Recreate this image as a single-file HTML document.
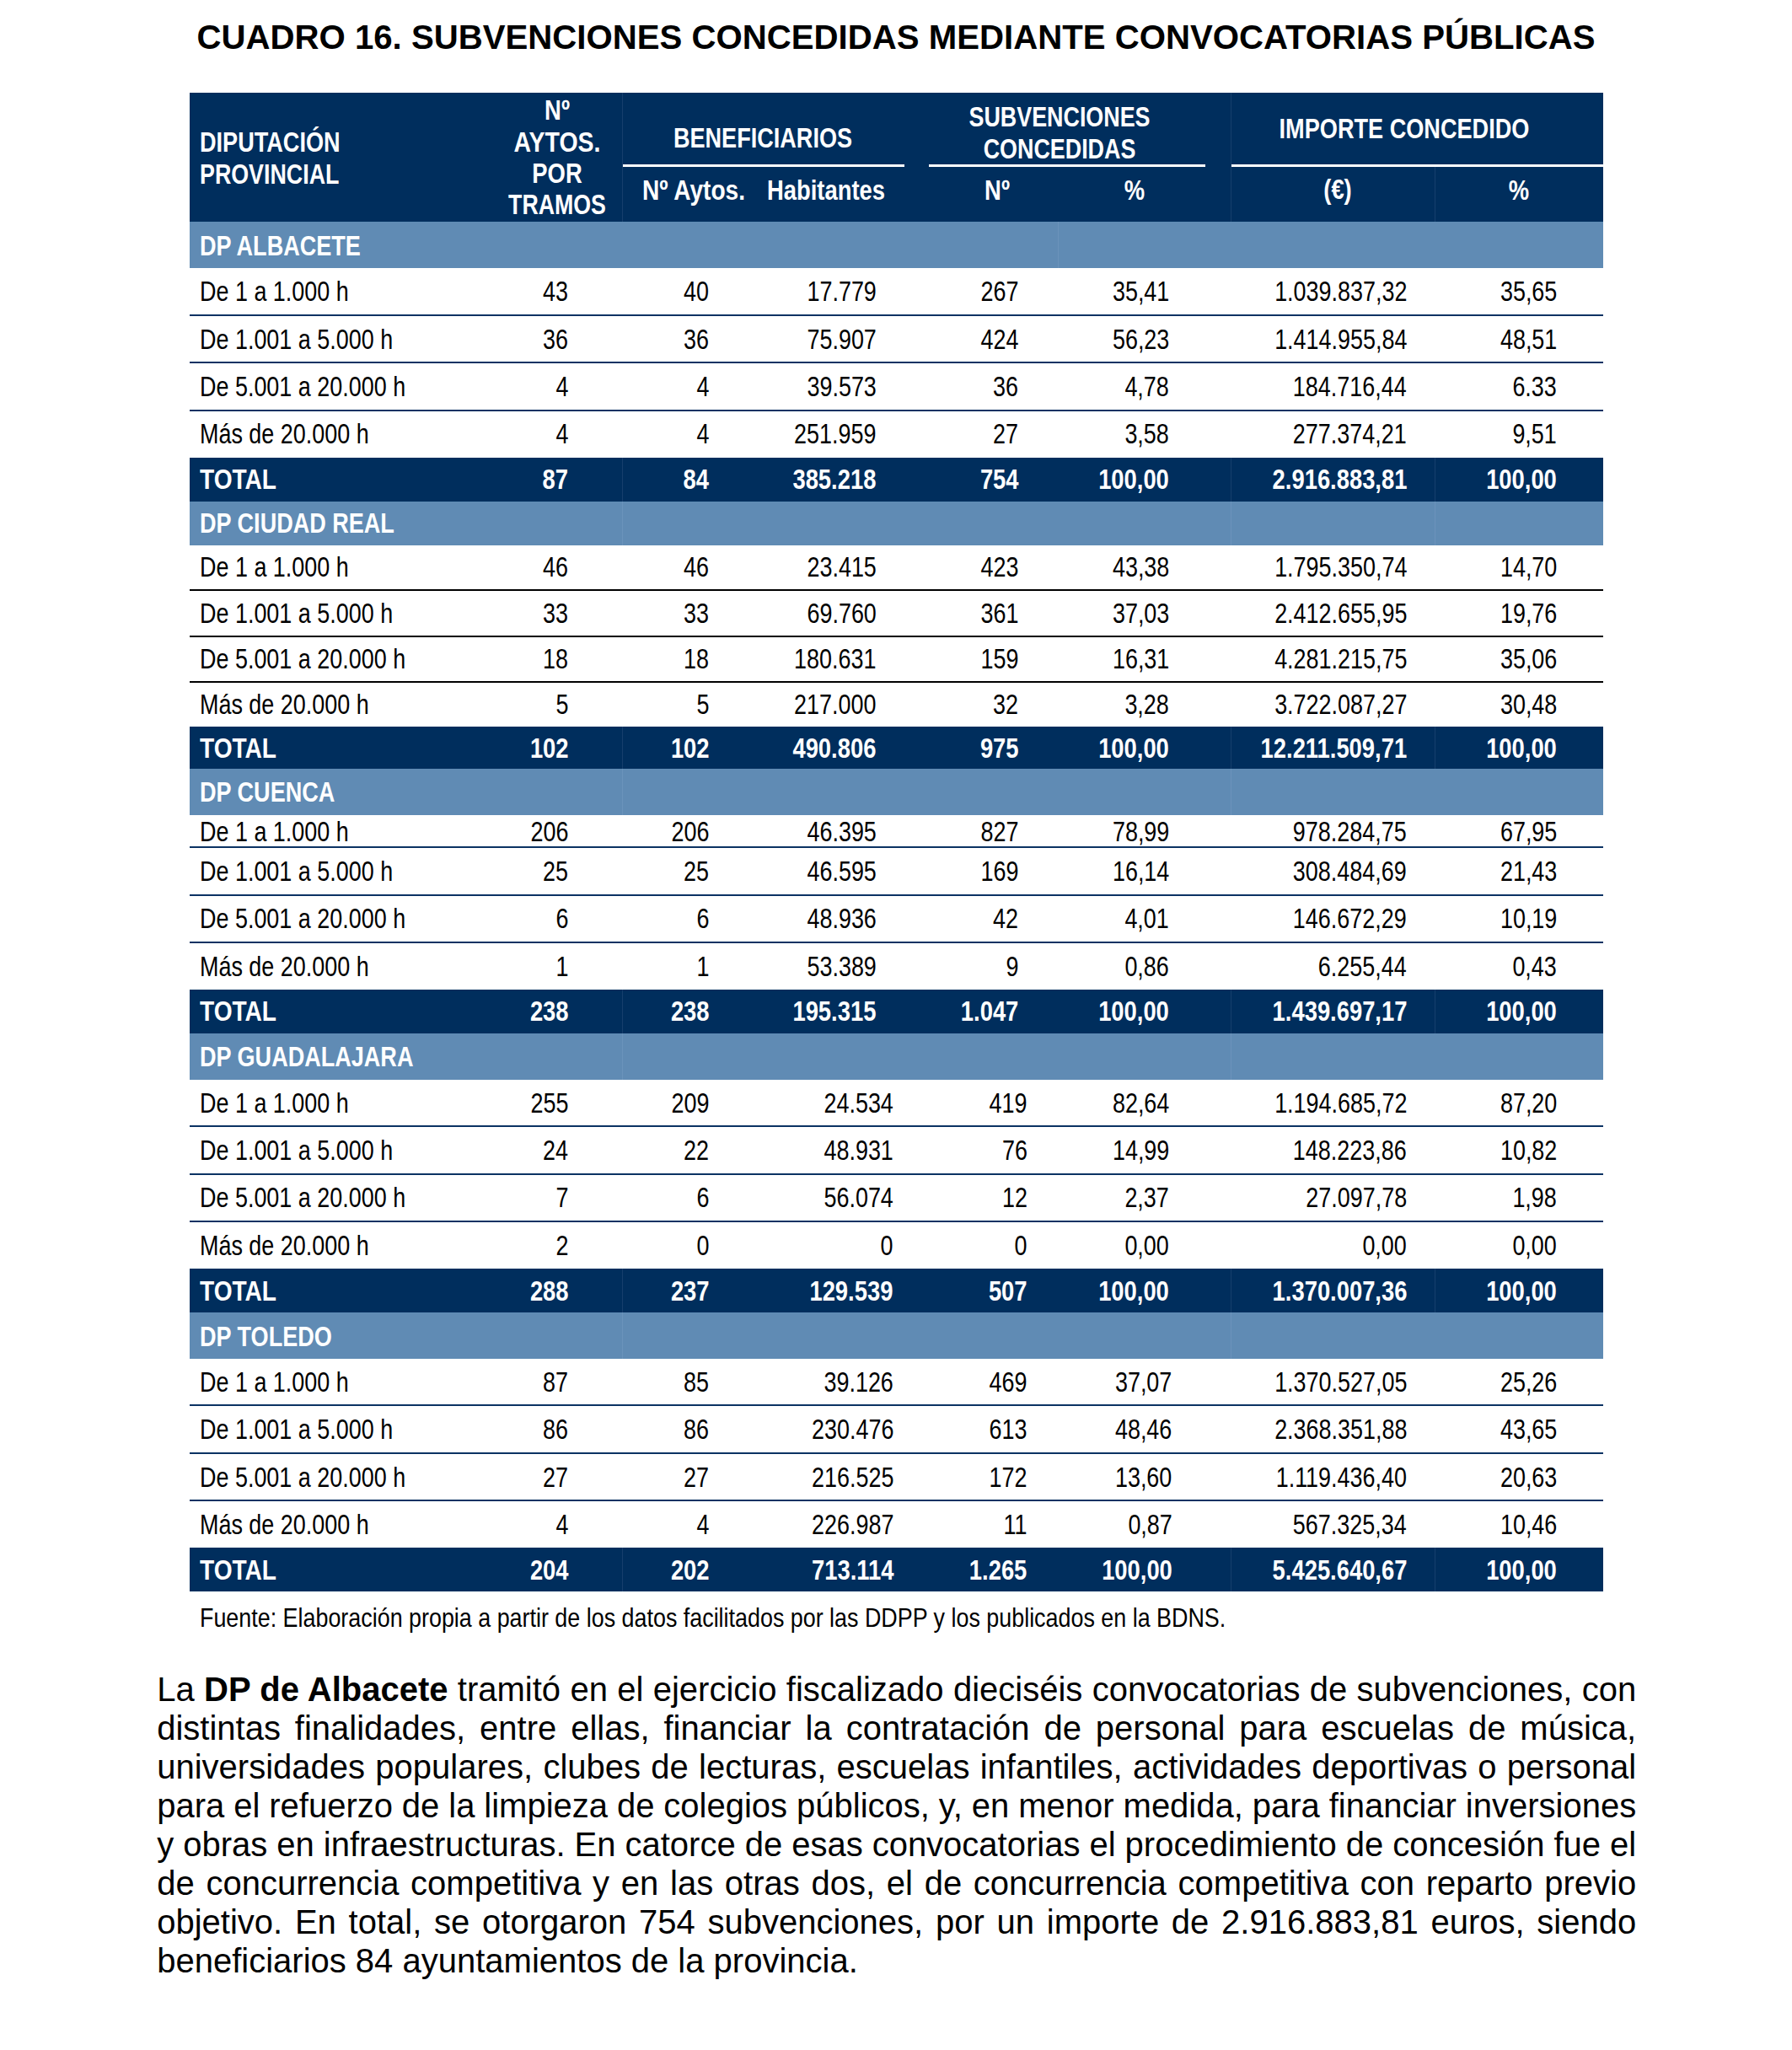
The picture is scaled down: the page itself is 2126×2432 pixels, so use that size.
<!DOCTYPE html>
<html><head><meta charset="utf-8"><title>Cuadro 16</title>
<style>
html,body{margin:0;padding:0;background:#fff}
body{width:2126px;height:2432px;position:relative;overflow:hidden;font-family:"Liberation Sans",sans-serif;color:#000}
</style></head><body>
<div style="position:absolute;left:0;width:2126px;top:22.67px;font-size:41.5px;line-height:41.5px;font-weight:bold;text-align:center;white-space:nowrap;transform:scaleX(0.968);transform-origin:50% 0">CUADRO 16. SUBVENCIONES CONCEDIDAS MEDIANTE CONVOCATORIAS PÚBLICAS</div>
<div style="position:absolute;left:224.50px;top:109.60px;width:1677.50px;height:153.40px;background:#002e5d"></div><div style="position:absolute;left:738.00px;top:195.30px;width:335.00px;height:2.50px;background:#ffffff"></div><div style="position:absolute;left:1102.40px;top:195.30px;width:327.60px;height:2.50px;background:#ffffff"></div><div style="position:absolute;left:1460.40px;top:195.30px;width:441.60px;height:2.50px;background:#ffffff"></div><div style="position:absolute;left:737.50px;top:109.60px;width:1.30px;height:153.40px;background:#163f6c"></div><div style="position:absolute;left:1459.80px;top:109.60px;width:1.20px;height:153.40px;background:#163f6c"></div><div style="position:absolute;left:1701.60px;top:198.00px;width:1.20px;height:65.00px;background:#163f6c"></div><div style="position:absolute;top:152.21px;font-size:33.3px;line-height:33.3px;color:#ffffff;font-weight:bold;white-space:nowrap;left:237.20px;transform:scaleX(0.81378);transform-origin:0 0">DIPUTACIÓN</div><div style="position:absolute;top:189.81px;font-size:33.3px;line-height:33.3px;color:#ffffff;font-weight:bold;white-space:nowrap;left:237.20px;transform:scaleX(0.8055599999999999);transform-origin:0 0">PROVINCIAL</div><div style="position:absolute;top:114.01px;font-size:33.3px;line-height:33.3px;color:#ffffff;font-weight:bold;white-space:nowrap;left:-339.00px;width:2000px;text-align:center;transform:scaleX(0.822);transform-origin:50% 0">Nº</div><div style="position:absolute;top:151.71px;font-size:33.3px;line-height:33.3px;color:#ffffff;font-weight:bold;white-space:nowrap;left:-339.00px;width:2000px;text-align:center;transform:scaleX(0.85488);transform-origin:50% 0">AYTOS.</div><div style="position:absolute;top:189.31px;font-size:33.3px;line-height:33.3px;color:#ffffff;font-weight:bold;white-space:nowrap;left:-339.00px;width:2000px;text-align:center;transform:scaleX(0.822);transform-origin:50% 0">POR</div><div style="position:absolute;top:226.11px;font-size:33.3px;line-height:33.3px;color:#ffffff;font-weight:bold;white-space:nowrap;left:-339.00px;width:2000px;text-align:center;transform:scaleX(0.803094);transform-origin:50% 0">TRAMOS</div><div style="position:absolute;top:147.11px;font-size:33.3px;line-height:33.3px;color:#ffffff;font-weight:bold;white-space:nowrap;left:-94.70px;width:2000px;text-align:center;transform:scaleX(0.812958);transform-origin:50% 0">BENEFICIARIOS</div><div style="position:absolute;top:208.81px;font-size:33.3px;line-height:33.3px;color:#ffffff;font-weight:bold;white-space:nowrap;left:-177.50px;width:2000px;text-align:center;transform:scaleX(0.843372);transform-origin:50% 0">Nº Aytos.</div><div style="position:absolute;top:208.81px;font-size:33.3px;line-height:33.3px;color:#ffffff;font-weight:bold;white-space:nowrap;left:-20.00px;width:2000px;text-align:center;transform:scaleX(0.822);transform-origin:50% 0">Habitantes</div><div style="position:absolute;top:122.41px;font-size:33.3px;line-height:33.3px;color:#ffffff;font-weight:bold;white-space:nowrap;left:256.50px;width:2000px;text-align:center;transform:scaleX(0.8072039999999999);transform-origin:50% 0">SUBVENCIONES</div><div style="position:absolute;top:159.81px;font-size:33.3px;line-height:33.3px;color:#ffffff;font-weight:bold;white-space:nowrap;left:256.50px;width:2000px;text-align:center;transform:scaleX(0.8072039999999999);transform-origin:50% 0">CONCEDIDAS</div><div style="position:absolute;top:208.61px;font-size:33.3px;line-height:33.3px;color:#ffffff;font-weight:bold;white-space:nowrap;left:182.60px;width:2000px;text-align:center;transform:scaleX(0.822);transform-origin:50% 0">Nº</div><div style="position:absolute;top:208.61px;font-size:33.3px;line-height:33.3px;color:#ffffff;font-weight:bold;white-space:nowrap;left:346.20px;width:2000px;text-align:center;transform:scaleX(0.822);transform-origin:50% 0">%</div><div style="position:absolute;top:135.81px;font-size:33.3px;line-height:33.3px;color:#ffffff;font-weight:bold;white-space:nowrap;left:666.00px;width:2000px;text-align:center;transform:scaleX(0.8146019999999999);transform-origin:50% 0">IMPORTE CONCEDIDO</div><div style="position:absolute;top:208.31px;font-size:33.3px;line-height:33.3px;color:#ffffff;font-weight:bold;white-space:nowrap;left:587.00px;width:2000px;text-align:center;transform:scaleX(0.822);transform-origin:50% 0">(€)</div><div style="position:absolute;top:209.11px;font-size:33.3px;line-height:33.3px;color:#ffffff;font-weight:bold;white-space:nowrap;left:801.50px;width:2000px;text-align:center;transform:scaleX(0.822);transform-origin:50% 0">%</div><div style="position:absolute;left:224.50px;top:263.00px;width:1677.50px;height:55.00px;background:#608bb4"></div><div style="position:absolute;left:1255.10px;top:263.00px;width:1.10px;height:55.00px;background:#6b93bb"></div><div style="position:absolute;top:274.91px;font-size:33.3px;line-height:33.3px;color:#ffffff;font-weight:bold;white-space:nowrap;left:237.20px;transform:scaleX(0.812136);transform-origin:0 0">DP ALBACETE</div><div style="position:absolute;left:224.50px;top:372.60px;width:1677.50px;height:2.00px;background:#0b3263"></div><div style="position:absolute;left:224.50px;top:429.30px;width:1677.50px;height:2.00px;background:#0b3263"></div><div style="position:absolute;left:224.50px;top:486.00px;width:1677.50px;height:2.00px;background:#0b3263"></div><div style="position:absolute;top:329.11px;font-size:33.3px;line-height:33.3px;color:#000;white-space:nowrap;left:237.20px;transform:scaleX(0.809);transform-origin:0 0">De 1 a 1.000 h</div><div style="position:absolute;top:329.11px;font-size:33.3px;line-height:33.3px;color:#000;white-space:nowrap;right:1451.90px;transform:scaleX(0.809);transform-origin:100% 0">43</div><div style="position:absolute;top:329.11px;font-size:33.3px;line-height:33.3px;color:#000;white-space:nowrap;right:1284.90px;transform:scaleX(0.809);transform-origin:100% 0">40</div><div style="position:absolute;top:329.11px;font-size:33.3px;line-height:33.3px;color:#000;white-space:nowrap;right:1086.40px;transform:scaleX(0.809);transform-origin:100% 0">17.779</div><div style="position:absolute;top:329.11px;font-size:33.3px;line-height:33.3px;color:#000;white-space:nowrap;right:917.90px;transform:scaleX(0.809);transform-origin:100% 0">267</div><div style="position:absolute;top:329.11px;font-size:33.3px;line-height:33.3px;color:#000;white-space:nowrap;right:738.90px;transform:scaleX(0.809);transform-origin:100% 0">35,41</div><div style="position:absolute;top:329.11px;font-size:33.3px;line-height:33.3px;color:#000;white-space:nowrap;right:456.90px;transform:scaleX(0.809);transform-origin:100% 0">1.039.837,32</div><div style="position:absolute;top:329.11px;font-size:33.3px;line-height:33.3px;color:#000;white-space:nowrap;right:278.90px;transform:scaleX(0.809);transform-origin:100% 0">35,65</div><div style="position:absolute;top:386.11px;font-size:33.3px;line-height:33.3px;color:#000;white-space:nowrap;left:237.20px;transform:scaleX(0.809);transform-origin:0 0">De 1.001 a 5.000 h</div><div style="position:absolute;top:386.11px;font-size:33.3px;line-height:33.3px;color:#000;white-space:nowrap;right:1451.90px;transform:scaleX(0.809);transform-origin:100% 0">36</div><div style="position:absolute;top:386.11px;font-size:33.3px;line-height:33.3px;color:#000;white-space:nowrap;right:1284.90px;transform:scaleX(0.809);transform-origin:100% 0">36</div><div style="position:absolute;top:386.11px;font-size:33.3px;line-height:33.3px;color:#000;white-space:nowrap;right:1086.40px;transform:scaleX(0.809);transform-origin:100% 0">75.907</div><div style="position:absolute;top:386.11px;font-size:33.3px;line-height:33.3px;color:#000;white-space:nowrap;right:917.90px;transform:scaleX(0.809);transform-origin:100% 0">424</div><div style="position:absolute;top:386.11px;font-size:33.3px;line-height:33.3px;color:#000;white-space:nowrap;right:738.90px;transform:scaleX(0.809);transform-origin:100% 0">56,23</div><div style="position:absolute;top:386.11px;font-size:33.3px;line-height:33.3px;color:#000;white-space:nowrap;right:456.90px;transform:scaleX(0.809);transform-origin:100% 0">1.414.955,84</div><div style="position:absolute;top:386.11px;font-size:33.3px;line-height:33.3px;color:#000;white-space:nowrap;right:278.90px;transform:scaleX(0.809);transform-origin:100% 0">48,51</div><div style="position:absolute;top:441.71px;font-size:33.3px;line-height:33.3px;color:#000;white-space:nowrap;left:237.20px;transform:scaleX(0.809);transform-origin:0 0">De 5.001 a 20.000 h</div><div style="position:absolute;top:441.71px;font-size:33.3px;line-height:33.3px;color:#000;white-space:nowrap;right:1451.90px;transform:scaleX(0.809);transform-origin:100% 0">4</div><div style="position:absolute;top:441.71px;font-size:33.3px;line-height:33.3px;color:#000;white-space:nowrap;right:1284.90px;transform:scaleX(0.809);transform-origin:100% 0">4</div><div style="position:absolute;top:441.71px;font-size:33.3px;line-height:33.3px;color:#000;white-space:nowrap;right:1086.40px;transform:scaleX(0.809);transform-origin:100% 0">39.573</div><div style="position:absolute;top:441.71px;font-size:33.3px;line-height:33.3px;color:#000;white-space:nowrap;right:917.90px;transform:scaleX(0.809);transform-origin:100% 0">36</div><div style="position:absolute;top:441.71px;font-size:33.3px;line-height:33.3px;color:#000;white-space:nowrap;right:738.90px;transform:scaleX(0.809);transform-origin:100% 0">4,78</div><div style="position:absolute;top:441.71px;font-size:33.3px;line-height:33.3px;color:#000;white-space:nowrap;right:456.90px;transform:scaleX(0.809);transform-origin:100% 0">184.716,44</div><div style="position:absolute;top:441.71px;font-size:33.3px;line-height:33.3px;color:#000;white-space:nowrap;right:278.90px;transform:scaleX(0.809);transform-origin:100% 0">6.33</div><div style="position:absolute;top:498.31px;font-size:33.3px;line-height:33.3px;color:#000;white-space:nowrap;left:237.20px;transform:scaleX(0.809);transform-origin:0 0">Más de 20.000 h</div><div style="position:absolute;top:498.31px;font-size:33.3px;line-height:33.3px;color:#000;white-space:nowrap;right:1451.90px;transform:scaleX(0.809);transform-origin:100% 0">4</div><div style="position:absolute;top:498.31px;font-size:33.3px;line-height:33.3px;color:#000;white-space:nowrap;right:1284.90px;transform:scaleX(0.809);transform-origin:100% 0">4</div><div style="position:absolute;top:498.31px;font-size:33.3px;line-height:33.3px;color:#000;white-space:nowrap;right:1086.40px;transform:scaleX(0.809);transform-origin:100% 0">251.959</div><div style="position:absolute;top:498.31px;font-size:33.3px;line-height:33.3px;color:#000;white-space:nowrap;right:917.90px;transform:scaleX(0.809);transform-origin:100% 0">27</div><div style="position:absolute;top:498.31px;font-size:33.3px;line-height:33.3px;color:#000;white-space:nowrap;right:738.90px;transform:scaleX(0.809);transform-origin:100% 0">3,58</div><div style="position:absolute;top:498.31px;font-size:33.3px;line-height:33.3px;color:#000;white-space:nowrap;right:456.90px;transform:scaleX(0.809);transform-origin:100% 0">277.374,21</div><div style="position:absolute;top:498.31px;font-size:33.3px;line-height:33.3px;color:#000;white-space:nowrap;right:278.90px;transform:scaleX(0.809);transform-origin:100% 0">9,51</div><div style="position:absolute;left:224.50px;top:542.70px;width:1677.50px;height:52.30px;background:#002e5d"></div><div style="position:absolute;left:737.90px;top:542.70px;width:1.10px;height:52.30px;background:#163f6c"></div><div style="position:absolute;left:1459.90px;top:542.70px;width:1.10px;height:52.30px;background:#163f6c"></div><div style="position:absolute;left:1701.90px;top:542.70px;width:1.10px;height:52.30px;background:#163f6c"></div><div style="position:absolute;top:551.71px;font-size:33.3px;line-height:33.3px;color:#ffffff;font-weight:bold;white-space:nowrap;left:237.20px;transform:scaleX(0.843372);transform-origin:0 0">TOTAL</div><div style="position:absolute;top:551.71px;font-size:33.3px;line-height:33.3px;color:#ffffff;font-weight:bold;white-space:nowrap;right:1451.90px;transform:scaleX(0.822);transform-origin:100% 0">87</div><div style="position:absolute;top:551.71px;font-size:33.3px;line-height:33.3px;color:#ffffff;font-weight:bold;white-space:nowrap;right:1284.90px;transform:scaleX(0.822);transform-origin:100% 0">84</div><div style="position:absolute;top:551.71px;font-size:33.3px;line-height:33.3px;color:#ffffff;font-weight:bold;white-space:nowrap;right:1086.40px;transform:scaleX(0.822);transform-origin:100% 0">385.218</div><div style="position:absolute;top:551.71px;font-size:33.3px;line-height:33.3px;color:#ffffff;font-weight:bold;white-space:nowrap;right:917.90px;transform:scaleX(0.822);transform-origin:100% 0">754</div><div style="position:absolute;top:551.71px;font-size:33.3px;line-height:33.3px;color:#ffffff;font-weight:bold;white-space:nowrap;right:738.90px;transform:scaleX(0.822);transform-origin:100% 0">100,00</div><div style="position:absolute;top:551.71px;font-size:33.3px;line-height:33.3px;color:#ffffff;font-weight:bold;white-space:nowrap;right:456.90px;transform:scaleX(0.822);transform-origin:100% 0">2.916.883,81</div><div style="position:absolute;top:551.71px;font-size:33.3px;line-height:33.3px;color:#ffffff;font-weight:bold;white-space:nowrap;right:278.90px;transform:scaleX(0.822);transform-origin:100% 0">100,00</div><div style="position:absolute;left:224.50px;top:595.00px;width:1677.50px;height:52.00px;background:#608bb4"></div><div style="position:absolute;left:737.90px;top:595.00px;width:1.10px;height:52.00px;background:#6b93bb"></div><div style="position:absolute;left:1459.90px;top:595.00px;width:1.10px;height:52.00px;background:#6b93bb"></div><div style="position:absolute;left:1701.90px;top:595.00px;width:1.10px;height:52.00px;background:#6b93bb"></div><div style="position:absolute;top:604.11px;font-size:33.3px;line-height:33.3px;color:#ffffff;font-weight:bold;white-space:nowrap;left:237.20px;transform:scaleX(0.812136);transform-origin:0 0">DP CIUDAD REAL</div><div style="position:absolute;left:224.50px;top:699.40px;width:1677.50px;height:2.00px;background:#000000"></div><div style="position:absolute;left:224.50px;top:753.50px;width:1677.50px;height:2.00px;background:#000000"></div><div style="position:absolute;left:224.50px;top:807.90px;width:1677.50px;height:2.00px;background:#000000"></div><div style="position:absolute;top:656.31px;font-size:33.3px;line-height:33.3px;color:#000;white-space:nowrap;left:237.20px;transform:scaleX(0.809);transform-origin:0 0">De 1 a 1.000 h</div><div style="position:absolute;top:656.31px;font-size:33.3px;line-height:33.3px;color:#000;white-space:nowrap;right:1451.90px;transform:scaleX(0.809);transform-origin:100% 0">46</div><div style="position:absolute;top:656.31px;font-size:33.3px;line-height:33.3px;color:#000;white-space:nowrap;right:1284.90px;transform:scaleX(0.809);transform-origin:100% 0">46</div><div style="position:absolute;top:656.31px;font-size:33.3px;line-height:33.3px;color:#000;white-space:nowrap;right:1086.40px;transform:scaleX(0.809);transform-origin:100% 0">23.415</div><div style="position:absolute;top:656.31px;font-size:33.3px;line-height:33.3px;color:#000;white-space:nowrap;right:917.90px;transform:scaleX(0.809);transform-origin:100% 0">423</div><div style="position:absolute;top:656.31px;font-size:33.3px;line-height:33.3px;color:#000;white-space:nowrap;right:738.90px;transform:scaleX(0.809);transform-origin:100% 0">43,38</div><div style="position:absolute;top:656.31px;font-size:33.3px;line-height:33.3px;color:#000;white-space:nowrap;right:456.90px;transform:scaleX(0.809);transform-origin:100% 0">1.795.350,74</div><div style="position:absolute;top:656.31px;font-size:33.3px;line-height:33.3px;color:#000;white-space:nowrap;right:278.90px;transform:scaleX(0.809);transform-origin:100% 0">14,70</div><div style="position:absolute;top:711.21px;font-size:33.3px;line-height:33.3px;color:#000;white-space:nowrap;left:237.20px;transform:scaleX(0.809);transform-origin:0 0">De 1.001 a 5.000 h</div><div style="position:absolute;top:711.21px;font-size:33.3px;line-height:33.3px;color:#000;white-space:nowrap;right:1451.90px;transform:scaleX(0.809);transform-origin:100% 0">33</div><div style="position:absolute;top:711.21px;font-size:33.3px;line-height:33.3px;color:#000;white-space:nowrap;right:1284.90px;transform:scaleX(0.809);transform-origin:100% 0">33</div><div style="position:absolute;top:711.21px;font-size:33.3px;line-height:33.3px;color:#000;white-space:nowrap;right:1086.40px;transform:scaleX(0.809);transform-origin:100% 0">69.760</div><div style="position:absolute;top:711.21px;font-size:33.3px;line-height:33.3px;color:#000;white-space:nowrap;right:917.90px;transform:scaleX(0.809);transform-origin:100% 0">361</div><div style="position:absolute;top:711.21px;font-size:33.3px;line-height:33.3px;color:#000;white-space:nowrap;right:738.90px;transform:scaleX(0.809);transform-origin:100% 0">37,03</div><div style="position:absolute;top:711.21px;font-size:33.3px;line-height:33.3px;color:#000;white-space:nowrap;right:456.90px;transform:scaleX(0.809);transform-origin:100% 0">2.412.655,95</div><div style="position:absolute;top:711.21px;font-size:33.3px;line-height:33.3px;color:#000;white-space:nowrap;right:278.90px;transform:scaleX(0.809);transform-origin:100% 0">19,76</div><div style="position:absolute;top:765.11px;font-size:33.3px;line-height:33.3px;color:#000;white-space:nowrap;left:237.20px;transform:scaleX(0.809);transform-origin:0 0">De 5.001 a 20.000 h</div><div style="position:absolute;top:765.11px;font-size:33.3px;line-height:33.3px;color:#000;white-space:nowrap;right:1451.90px;transform:scaleX(0.809);transform-origin:100% 0">18</div><div style="position:absolute;top:765.11px;font-size:33.3px;line-height:33.3px;color:#000;white-space:nowrap;right:1284.90px;transform:scaleX(0.809);transform-origin:100% 0">18</div><div style="position:absolute;top:765.11px;font-size:33.3px;line-height:33.3px;color:#000;white-space:nowrap;right:1086.40px;transform:scaleX(0.809);transform-origin:100% 0">180.631</div><div style="position:absolute;top:765.11px;font-size:33.3px;line-height:33.3px;color:#000;white-space:nowrap;right:917.90px;transform:scaleX(0.809);transform-origin:100% 0">159</div><div style="position:absolute;top:765.11px;font-size:33.3px;line-height:33.3px;color:#000;white-space:nowrap;right:738.90px;transform:scaleX(0.809);transform-origin:100% 0">16,31</div><div style="position:absolute;top:765.11px;font-size:33.3px;line-height:33.3px;color:#000;white-space:nowrap;right:456.90px;transform:scaleX(0.809);transform-origin:100% 0">4.281.215,75</div><div style="position:absolute;top:765.11px;font-size:33.3px;line-height:33.3px;color:#000;white-space:nowrap;right:278.90px;transform:scaleX(0.809);transform-origin:100% 0">35,06</div><div style="position:absolute;top:819.21px;font-size:33.3px;line-height:33.3px;color:#000;white-space:nowrap;left:237.20px;transform:scaleX(0.809);transform-origin:0 0">Más de 20.000 h</div><div style="position:absolute;top:819.21px;font-size:33.3px;line-height:33.3px;color:#000;white-space:nowrap;right:1451.90px;transform:scaleX(0.809);transform-origin:100% 0">5</div><div style="position:absolute;top:819.21px;font-size:33.3px;line-height:33.3px;color:#000;white-space:nowrap;right:1284.90px;transform:scaleX(0.809);transform-origin:100% 0">5</div><div style="position:absolute;top:819.21px;font-size:33.3px;line-height:33.3px;color:#000;white-space:nowrap;right:1086.40px;transform:scaleX(0.809);transform-origin:100% 0">217.000</div><div style="position:absolute;top:819.21px;font-size:33.3px;line-height:33.3px;color:#000;white-space:nowrap;right:917.90px;transform:scaleX(0.809);transform-origin:100% 0">32</div><div style="position:absolute;top:819.21px;font-size:33.3px;line-height:33.3px;color:#000;white-space:nowrap;right:738.90px;transform:scaleX(0.809);transform-origin:100% 0">3,28</div><div style="position:absolute;top:819.21px;font-size:33.3px;line-height:33.3px;color:#000;white-space:nowrap;right:456.90px;transform:scaleX(0.809);transform-origin:100% 0">3.722.087,27</div><div style="position:absolute;top:819.21px;font-size:33.3px;line-height:33.3px;color:#000;white-space:nowrap;right:278.90px;transform:scaleX(0.809);transform-origin:100% 0">30,48</div><div style="position:absolute;left:224.50px;top:862.00px;width:1677.50px;height:50.20px;background:#002e5d"></div><div style="position:absolute;left:737.90px;top:862.00px;width:1.10px;height:50.20px;background:#163f6c"></div><div style="position:absolute;left:1459.90px;top:862.00px;width:1.10px;height:50.20px;background:#163f6c"></div><div style="position:absolute;left:1701.90px;top:862.00px;width:1.10px;height:50.20px;background:#163f6c"></div><div style="position:absolute;top:870.81px;font-size:33.3px;line-height:33.3px;color:#ffffff;font-weight:bold;white-space:nowrap;left:237.20px;transform:scaleX(0.843372);transform-origin:0 0">TOTAL</div><div style="position:absolute;top:870.81px;font-size:33.3px;line-height:33.3px;color:#ffffff;font-weight:bold;white-space:nowrap;right:1451.90px;transform:scaleX(0.822);transform-origin:100% 0">102</div><div style="position:absolute;top:870.81px;font-size:33.3px;line-height:33.3px;color:#ffffff;font-weight:bold;white-space:nowrap;right:1284.90px;transform:scaleX(0.822);transform-origin:100% 0">102</div><div style="position:absolute;top:870.81px;font-size:33.3px;line-height:33.3px;color:#ffffff;font-weight:bold;white-space:nowrap;right:1086.40px;transform:scaleX(0.822);transform-origin:100% 0">490.806</div><div style="position:absolute;top:870.81px;font-size:33.3px;line-height:33.3px;color:#ffffff;font-weight:bold;white-space:nowrap;right:917.90px;transform:scaleX(0.822);transform-origin:100% 0">975</div><div style="position:absolute;top:870.81px;font-size:33.3px;line-height:33.3px;color:#ffffff;font-weight:bold;white-space:nowrap;right:738.90px;transform:scaleX(0.822);transform-origin:100% 0">100,00</div><div style="position:absolute;top:870.81px;font-size:33.3px;line-height:33.3px;color:#ffffff;font-weight:bold;white-space:nowrap;right:456.90px;transform:scaleX(0.822);transform-origin:100% 0">12.211.509,71</div><div style="position:absolute;top:870.81px;font-size:33.3px;line-height:33.3px;color:#ffffff;font-weight:bold;white-space:nowrap;right:278.90px;transform:scaleX(0.822);transform-origin:100% 0">100,00</div><div style="position:absolute;left:224.50px;top:912.20px;width:1677.50px;height:54.50px;background:#608bb4"></div><div style="position:absolute;left:737.90px;top:912.20px;width:1.10px;height:54.50px;background:#6b93bb"></div><div style="position:absolute;left:1459.90px;top:912.20px;width:1.10px;height:54.50px;background:#6b93bb"></div><div style="position:absolute;top:922.61px;font-size:33.3px;line-height:33.3px;color:#ffffff;font-weight:bold;white-space:nowrap;left:237.20px;transform:scaleX(0.812136);transform-origin:0 0">DP CUENCA</div><div style="position:absolute;left:224.50px;top:1004.20px;width:1677.50px;height:2.00px;background:#0b3263"></div><div style="position:absolute;left:224.50px;top:1060.60px;width:1677.50px;height:2.00px;background:#0b3263"></div><div style="position:absolute;left:224.50px;top:1117.20px;width:1677.50px;height:2.00px;background:#0b3263"></div><div style="position:absolute;top:969.51px;font-size:33.3px;line-height:33.3px;color:#000;white-space:nowrap;left:237.20px;transform:scaleX(0.809);transform-origin:0 0">De 1 a 1.000 h</div><div style="position:absolute;top:969.51px;font-size:33.3px;line-height:33.3px;color:#000;white-space:nowrap;right:1451.90px;transform:scaleX(0.809);transform-origin:100% 0">206</div><div style="position:absolute;top:969.51px;font-size:33.3px;line-height:33.3px;color:#000;white-space:nowrap;right:1284.90px;transform:scaleX(0.809);transform-origin:100% 0">206</div><div style="position:absolute;top:969.51px;font-size:33.3px;line-height:33.3px;color:#000;white-space:nowrap;right:1086.40px;transform:scaleX(0.809);transform-origin:100% 0">46.395</div><div style="position:absolute;top:969.51px;font-size:33.3px;line-height:33.3px;color:#000;white-space:nowrap;right:917.90px;transform:scaleX(0.809);transform-origin:100% 0">827</div><div style="position:absolute;top:969.51px;font-size:33.3px;line-height:33.3px;color:#000;white-space:nowrap;right:738.90px;transform:scaleX(0.809);transform-origin:100% 0">78,99</div><div style="position:absolute;top:969.51px;font-size:33.3px;line-height:33.3px;color:#000;white-space:nowrap;right:456.90px;transform:scaleX(0.809);transform-origin:100% 0">978.284,75</div><div style="position:absolute;top:969.51px;font-size:33.3px;line-height:33.3px;color:#000;white-space:nowrap;right:278.90px;transform:scaleX(0.809);transform-origin:100% 0">67,95</div><div style="position:absolute;top:1017.21px;font-size:33.3px;line-height:33.3px;color:#000;white-space:nowrap;left:237.20px;transform:scaleX(0.809);transform-origin:0 0">De 1.001 a 5.000 h</div><div style="position:absolute;top:1017.21px;font-size:33.3px;line-height:33.3px;color:#000;white-space:nowrap;right:1451.90px;transform:scaleX(0.809);transform-origin:100% 0">25</div><div style="position:absolute;top:1017.21px;font-size:33.3px;line-height:33.3px;color:#000;white-space:nowrap;right:1284.90px;transform:scaleX(0.809);transform-origin:100% 0">25</div><div style="position:absolute;top:1017.21px;font-size:33.3px;line-height:33.3px;color:#000;white-space:nowrap;right:1086.40px;transform:scaleX(0.809);transform-origin:100% 0">46.595</div><div style="position:absolute;top:1017.21px;font-size:33.3px;line-height:33.3px;color:#000;white-space:nowrap;right:917.90px;transform:scaleX(0.809);transform-origin:100% 0">169</div><div style="position:absolute;top:1017.21px;font-size:33.3px;line-height:33.3px;color:#000;white-space:nowrap;right:738.90px;transform:scaleX(0.809);transform-origin:100% 0">16,14</div><div style="position:absolute;top:1017.21px;font-size:33.3px;line-height:33.3px;color:#000;white-space:nowrap;right:456.90px;transform:scaleX(0.809);transform-origin:100% 0">308.484,69</div><div style="position:absolute;top:1017.21px;font-size:33.3px;line-height:33.3px;color:#000;white-space:nowrap;right:278.90px;transform:scaleX(0.809);transform-origin:100% 0">21,43</div><div style="position:absolute;top:1073.31px;font-size:33.3px;line-height:33.3px;color:#000;white-space:nowrap;left:237.20px;transform:scaleX(0.809);transform-origin:0 0">De 5.001 a 20.000 h</div><div style="position:absolute;top:1073.31px;font-size:33.3px;line-height:33.3px;color:#000;white-space:nowrap;right:1451.90px;transform:scaleX(0.809);transform-origin:100% 0">6</div><div style="position:absolute;top:1073.31px;font-size:33.3px;line-height:33.3px;color:#000;white-space:nowrap;right:1284.90px;transform:scaleX(0.809);transform-origin:100% 0">6</div><div style="position:absolute;top:1073.31px;font-size:33.3px;line-height:33.3px;color:#000;white-space:nowrap;right:1086.40px;transform:scaleX(0.809);transform-origin:100% 0">48.936</div><div style="position:absolute;top:1073.31px;font-size:33.3px;line-height:33.3px;color:#000;white-space:nowrap;right:917.90px;transform:scaleX(0.809);transform-origin:100% 0">42</div><div style="position:absolute;top:1073.31px;font-size:33.3px;line-height:33.3px;color:#000;white-space:nowrap;right:738.90px;transform:scaleX(0.809);transform-origin:100% 0">4,01</div><div style="position:absolute;top:1073.31px;font-size:33.3px;line-height:33.3px;color:#000;white-space:nowrap;right:456.90px;transform:scaleX(0.809);transform-origin:100% 0">146.672,29</div><div style="position:absolute;top:1073.31px;font-size:33.3px;line-height:33.3px;color:#000;white-space:nowrap;right:278.90px;transform:scaleX(0.809);transform-origin:100% 0">10,19</div><div style="position:absolute;top:1129.81px;font-size:33.3px;line-height:33.3px;color:#000;white-space:nowrap;left:237.20px;transform:scaleX(0.809);transform-origin:0 0">Más de 20.000 h</div><div style="position:absolute;top:1129.81px;font-size:33.3px;line-height:33.3px;color:#000;white-space:nowrap;right:1451.90px;transform:scaleX(0.809);transform-origin:100% 0">1</div><div style="position:absolute;top:1129.81px;font-size:33.3px;line-height:33.3px;color:#000;white-space:nowrap;right:1284.90px;transform:scaleX(0.809);transform-origin:100% 0">1</div><div style="position:absolute;top:1129.81px;font-size:33.3px;line-height:33.3px;color:#000;white-space:nowrap;right:1086.40px;transform:scaleX(0.809);transform-origin:100% 0">53.389</div><div style="position:absolute;top:1129.81px;font-size:33.3px;line-height:33.3px;color:#000;white-space:nowrap;right:917.90px;transform:scaleX(0.809);transform-origin:100% 0">9</div><div style="position:absolute;top:1129.81px;font-size:33.3px;line-height:33.3px;color:#000;white-space:nowrap;right:738.90px;transform:scaleX(0.809);transform-origin:100% 0">0,86</div><div style="position:absolute;top:1129.81px;font-size:33.3px;line-height:33.3px;color:#000;white-space:nowrap;right:456.90px;transform:scaleX(0.809);transform-origin:100% 0">6.255,44</div><div style="position:absolute;top:1129.81px;font-size:33.3px;line-height:33.3px;color:#000;white-space:nowrap;right:278.90px;transform:scaleX(0.809);transform-origin:100% 0">0,43</div><div style="position:absolute;left:224.50px;top:1174.00px;width:1677.50px;height:52.20px;background:#002e5d"></div><div style="position:absolute;left:737.90px;top:1174.00px;width:1.10px;height:52.20px;background:#163f6c"></div><div style="position:absolute;left:1459.90px;top:1174.00px;width:1.10px;height:52.20px;background:#163f6c"></div><div style="position:absolute;left:1701.90px;top:1174.00px;width:1.10px;height:52.20px;background:#163f6c"></div><div style="position:absolute;top:1182.91px;font-size:33.3px;line-height:33.3px;color:#ffffff;font-weight:bold;white-space:nowrap;left:237.20px;transform:scaleX(0.843372);transform-origin:0 0">TOTAL</div><div style="position:absolute;top:1182.91px;font-size:33.3px;line-height:33.3px;color:#ffffff;font-weight:bold;white-space:nowrap;right:1451.90px;transform:scaleX(0.822);transform-origin:100% 0">238</div><div style="position:absolute;top:1182.91px;font-size:33.3px;line-height:33.3px;color:#ffffff;font-weight:bold;white-space:nowrap;right:1284.90px;transform:scaleX(0.822);transform-origin:100% 0">238</div><div style="position:absolute;top:1182.91px;font-size:33.3px;line-height:33.3px;color:#ffffff;font-weight:bold;white-space:nowrap;right:1086.40px;transform:scaleX(0.822);transform-origin:100% 0">195.315</div><div style="position:absolute;top:1182.91px;font-size:33.3px;line-height:33.3px;color:#ffffff;font-weight:bold;white-space:nowrap;right:917.90px;transform:scaleX(0.822);transform-origin:100% 0">1.047</div><div style="position:absolute;top:1182.91px;font-size:33.3px;line-height:33.3px;color:#ffffff;font-weight:bold;white-space:nowrap;right:738.90px;transform:scaleX(0.822);transform-origin:100% 0">100,00</div><div style="position:absolute;top:1182.91px;font-size:33.3px;line-height:33.3px;color:#ffffff;font-weight:bold;white-space:nowrap;right:456.90px;transform:scaleX(0.822);transform-origin:100% 0">1.439.697,17</div><div style="position:absolute;top:1182.91px;font-size:33.3px;line-height:33.3px;color:#ffffff;font-weight:bold;white-space:nowrap;right:278.90px;transform:scaleX(0.822);transform-origin:100% 0">100,00</div><div style="position:absolute;left:224.50px;top:1226.20px;width:1677.50px;height:54.90px;background:#608bb4"></div><div style="position:absolute;left:737.90px;top:1226.20px;width:1.10px;height:54.90px;background:#6b93bb"></div><div style="position:absolute;left:1459.90px;top:1226.20px;width:1.10px;height:54.90px;background:#6b93bb"></div><div style="position:absolute;top:1236.71px;font-size:33.3px;line-height:33.3px;color:#ffffff;font-weight:bold;white-space:nowrap;left:237.20px;transform:scaleX(0.812136);transform-origin:0 0">DP GUADALAJARA</div><div style="position:absolute;left:224.50px;top:1335.40px;width:1677.50px;height:2.00px;background:#0b3263"></div><div style="position:absolute;left:224.50px;top:1391.80px;width:1677.50px;height:2.00px;background:#0b3263"></div><div style="position:absolute;left:224.50px;top:1448.00px;width:1677.50px;height:2.00px;background:#0b3263"></div><div style="position:absolute;top:1291.81px;font-size:33.3px;line-height:33.3px;color:#000;white-space:nowrap;left:237.20px;transform:scaleX(0.809);transform-origin:0 0">De 1 a 1.000 h</div><div style="position:absolute;top:1291.81px;font-size:33.3px;line-height:33.3px;color:#000;white-space:nowrap;right:1451.90px;transform:scaleX(0.809);transform-origin:100% 0">255</div><div style="position:absolute;top:1291.81px;font-size:33.3px;line-height:33.3px;color:#000;white-space:nowrap;right:1284.90px;transform:scaleX(0.809);transform-origin:100% 0">209</div><div style="position:absolute;top:1291.81px;font-size:33.3px;line-height:33.3px;color:#000;white-space:nowrap;right:1066.40px;transform:scaleX(0.809);transform-origin:100% 0">24.534</div><div style="position:absolute;top:1291.81px;font-size:33.3px;line-height:33.3px;color:#000;white-space:nowrap;right:907.40px;transform:scaleX(0.809);transform-origin:100% 0">419</div><div style="position:absolute;top:1291.81px;font-size:33.3px;line-height:33.3px;color:#000;white-space:nowrap;right:738.90px;transform:scaleX(0.809);transform-origin:100% 0">82,64</div><div style="position:absolute;top:1291.81px;font-size:33.3px;line-height:33.3px;color:#000;white-space:nowrap;right:456.90px;transform:scaleX(0.809);transform-origin:100% 0">1.194.685,72</div><div style="position:absolute;top:1291.81px;font-size:33.3px;line-height:33.3px;color:#000;white-space:nowrap;right:278.90px;transform:scaleX(0.809);transform-origin:100% 0">87,20</div><div style="position:absolute;top:1347.81px;font-size:33.3px;line-height:33.3px;color:#000;white-space:nowrap;left:237.20px;transform:scaleX(0.809);transform-origin:0 0">De 1.001 a 5.000 h</div><div style="position:absolute;top:1347.81px;font-size:33.3px;line-height:33.3px;color:#000;white-space:nowrap;right:1451.90px;transform:scaleX(0.809);transform-origin:100% 0">24</div><div style="position:absolute;top:1347.81px;font-size:33.3px;line-height:33.3px;color:#000;white-space:nowrap;right:1284.90px;transform:scaleX(0.809);transform-origin:100% 0">22</div><div style="position:absolute;top:1347.81px;font-size:33.3px;line-height:33.3px;color:#000;white-space:nowrap;right:1066.40px;transform:scaleX(0.809);transform-origin:100% 0">48.931</div><div style="position:absolute;top:1347.81px;font-size:33.3px;line-height:33.3px;color:#000;white-space:nowrap;right:907.40px;transform:scaleX(0.809);transform-origin:100% 0">76</div><div style="position:absolute;top:1347.81px;font-size:33.3px;line-height:33.3px;color:#000;white-space:nowrap;right:738.90px;transform:scaleX(0.809);transform-origin:100% 0">14,99</div><div style="position:absolute;top:1347.81px;font-size:33.3px;line-height:33.3px;color:#000;white-space:nowrap;right:456.90px;transform:scaleX(0.809);transform-origin:100% 0">148.223,86</div><div style="position:absolute;top:1347.81px;font-size:33.3px;line-height:33.3px;color:#000;white-space:nowrap;right:278.90px;transform:scaleX(0.809);transform-origin:100% 0">10,82</div><div style="position:absolute;top:1404.41px;font-size:33.3px;line-height:33.3px;color:#000;white-space:nowrap;left:237.20px;transform:scaleX(0.809);transform-origin:0 0">De 5.001 a 20.000 h</div><div style="position:absolute;top:1404.41px;font-size:33.3px;line-height:33.3px;color:#000;white-space:nowrap;right:1451.90px;transform:scaleX(0.809);transform-origin:100% 0">7</div><div style="position:absolute;top:1404.41px;font-size:33.3px;line-height:33.3px;color:#000;white-space:nowrap;right:1284.90px;transform:scaleX(0.809);transform-origin:100% 0">6</div><div style="position:absolute;top:1404.41px;font-size:33.3px;line-height:33.3px;color:#000;white-space:nowrap;right:1066.40px;transform:scaleX(0.809);transform-origin:100% 0">56.074</div><div style="position:absolute;top:1404.41px;font-size:33.3px;line-height:33.3px;color:#000;white-space:nowrap;right:907.40px;transform:scaleX(0.809);transform-origin:100% 0">12</div><div style="position:absolute;top:1404.41px;font-size:33.3px;line-height:33.3px;color:#000;white-space:nowrap;right:738.90px;transform:scaleX(0.809);transform-origin:100% 0">2,37</div><div style="position:absolute;top:1404.41px;font-size:33.3px;line-height:33.3px;color:#000;white-space:nowrap;right:456.90px;transform:scaleX(0.809);transform-origin:100% 0">27.097,78</div><div style="position:absolute;top:1404.41px;font-size:33.3px;line-height:33.3px;color:#000;white-space:nowrap;right:278.90px;transform:scaleX(0.809);transform-origin:100% 0">1,98</div><div style="position:absolute;top:1460.81px;font-size:33.3px;line-height:33.3px;color:#000;white-space:nowrap;left:237.20px;transform:scaleX(0.809);transform-origin:0 0">Más de 20.000 h</div><div style="position:absolute;top:1460.81px;font-size:33.3px;line-height:33.3px;color:#000;white-space:nowrap;right:1451.90px;transform:scaleX(0.809);transform-origin:100% 0">2</div><div style="position:absolute;top:1460.81px;font-size:33.3px;line-height:33.3px;color:#000;white-space:nowrap;right:1284.90px;transform:scaleX(0.809);transform-origin:100% 0">0</div><div style="position:absolute;top:1460.81px;font-size:33.3px;line-height:33.3px;color:#000;white-space:nowrap;right:1066.40px;transform:scaleX(0.809);transform-origin:100% 0">0</div><div style="position:absolute;top:1460.81px;font-size:33.3px;line-height:33.3px;color:#000;white-space:nowrap;right:907.40px;transform:scaleX(0.809);transform-origin:100% 0">0</div><div style="position:absolute;top:1460.81px;font-size:33.3px;line-height:33.3px;color:#000;white-space:nowrap;right:738.90px;transform:scaleX(0.809);transform-origin:100% 0">0,00</div><div style="position:absolute;top:1460.81px;font-size:33.3px;line-height:33.3px;color:#000;white-space:nowrap;right:456.90px;transform:scaleX(0.809);transform-origin:100% 0">0,00</div><div style="position:absolute;top:1460.81px;font-size:33.3px;line-height:33.3px;color:#000;white-space:nowrap;right:278.90px;transform:scaleX(0.809);transform-origin:100% 0">0,00</div><div style="position:absolute;left:224.50px;top:1504.70px;width:1677.50px;height:52.30px;background:#002e5d"></div><div style="position:absolute;left:737.90px;top:1504.70px;width:1.10px;height:52.30px;background:#163f6c"></div><div style="position:absolute;left:1459.90px;top:1504.70px;width:1.10px;height:52.30px;background:#163f6c"></div><div style="position:absolute;left:1701.90px;top:1504.70px;width:1.10px;height:52.30px;background:#163f6c"></div><div style="position:absolute;top:1514.51px;font-size:33.3px;line-height:33.3px;color:#ffffff;font-weight:bold;white-space:nowrap;left:237.20px;transform:scaleX(0.843372);transform-origin:0 0">TOTAL</div><div style="position:absolute;top:1514.51px;font-size:33.3px;line-height:33.3px;color:#ffffff;font-weight:bold;white-space:nowrap;right:1451.90px;transform:scaleX(0.822);transform-origin:100% 0">288</div><div style="position:absolute;top:1514.51px;font-size:33.3px;line-height:33.3px;color:#ffffff;font-weight:bold;white-space:nowrap;right:1284.90px;transform:scaleX(0.822);transform-origin:100% 0">237</div><div style="position:absolute;top:1514.51px;font-size:33.3px;line-height:33.3px;color:#ffffff;font-weight:bold;white-space:nowrap;right:1066.40px;transform:scaleX(0.822);transform-origin:100% 0">129.539</div><div style="position:absolute;top:1514.51px;font-size:33.3px;line-height:33.3px;color:#ffffff;font-weight:bold;white-space:nowrap;right:907.40px;transform:scaleX(0.822);transform-origin:100% 0">507</div><div style="position:absolute;top:1514.51px;font-size:33.3px;line-height:33.3px;color:#ffffff;font-weight:bold;white-space:nowrap;right:738.90px;transform:scaleX(0.822);transform-origin:100% 0">100,00</div><div style="position:absolute;top:1514.51px;font-size:33.3px;line-height:33.3px;color:#ffffff;font-weight:bold;white-space:nowrap;right:456.90px;transform:scaleX(0.822);transform-origin:100% 0">1.370.007,36</div><div style="position:absolute;top:1514.51px;font-size:33.3px;line-height:33.3px;color:#ffffff;font-weight:bold;white-space:nowrap;right:278.90px;transform:scaleX(0.822);transform-origin:100% 0">100,00</div><div style="position:absolute;left:224.50px;top:1557.00px;width:1677.50px;height:54.70px;background:#608bb4"></div><div style="position:absolute;left:737.90px;top:1557.00px;width:1.10px;height:54.70px;background:#6b93bb"></div><div style="position:absolute;left:1459.90px;top:1557.00px;width:1.10px;height:54.70px;background:#6b93bb"></div><div style="position:absolute;top:1568.61px;font-size:33.3px;line-height:33.3px;color:#ffffff;font-weight:bold;white-space:nowrap;left:237.20px;transform:scaleX(0.812136);transform-origin:0 0">DP TOLEDO</div><div style="position:absolute;left:224.50px;top:1666.40px;width:1677.50px;height:2.00px;background:#0b3263"></div><div style="position:absolute;left:224.50px;top:1722.80px;width:1677.50px;height:2.00px;background:#0b3263"></div><div style="position:absolute;left:224.50px;top:1779.40px;width:1677.50px;height:2.00px;background:#0b3263"></div><div style="position:absolute;top:1622.51px;font-size:33.3px;line-height:33.3px;color:#000;white-space:nowrap;left:237.20px;transform:scaleX(0.809);transform-origin:0 0">De 1 a 1.000 h</div><div style="position:absolute;top:1622.51px;font-size:33.3px;line-height:33.3px;color:#000;white-space:nowrap;right:1451.90px;transform:scaleX(0.809);transform-origin:100% 0">87</div><div style="position:absolute;top:1622.51px;font-size:33.3px;line-height:33.3px;color:#000;white-space:nowrap;right:1284.90px;transform:scaleX(0.809);transform-origin:100% 0">85</div><div style="position:absolute;top:1622.51px;font-size:33.3px;line-height:33.3px;color:#000;white-space:nowrap;right:1065.90px;transform:scaleX(0.809);transform-origin:100% 0">39.126</div><div style="position:absolute;top:1622.51px;font-size:33.3px;line-height:33.3px;color:#000;white-space:nowrap;right:907.40px;transform:scaleX(0.809);transform-origin:100% 0">469</div><div style="position:absolute;top:1622.51px;font-size:33.3px;line-height:33.3px;color:#000;white-space:nowrap;right:735.40px;transform:scaleX(0.809);transform-origin:100% 0">37,07</div><div style="position:absolute;top:1622.51px;font-size:33.3px;line-height:33.3px;color:#000;white-space:nowrap;right:456.90px;transform:scaleX(0.809);transform-origin:100% 0">1.370.527,05</div><div style="position:absolute;top:1622.51px;font-size:33.3px;line-height:33.3px;color:#000;white-space:nowrap;right:278.90px;transform:scaleX(0.809);transform-origin:100% 0">25,26</div><div style="position:absolute;top:1679.41px;font-size:33.3px;line-height:33.3px;color:#000;white-space:nowrap;left:237.20px;transform:scaleX(0.809);transform-origin:0 0">De 1.001 a 5.000 h</div><div style="position:absolute;top:1679.41px;font-size:33.3px;line-height:33.3px;color:#000;white-space:nowrap;right:1451.90px;transform:scaleX(0.809);transform-origin:100% 0">86</div><div style="position:absolute;top:1679.41px;font-size:33.3px;line-height:33.3px;color:#000;white-space:nowrap;right:1284.90px;transform:scaleX(0.809);transform-origin:100% 0">86</div><div style="position:absolute;top:1679.41px;font-size:33.3px;line-height:33.3px;color:#000;white-space:nowrap;right:1065.90px;transform:scaleX(0.809);transform-origin:100% 0">230.476</div><div style="position:absolute;top:1679.41px;font-size:33.3px;line-height:33.3px;color:#000;white-space:nowrap;right:907.40px;transform:scaleX(0.809);transform-origin:100% 0">613</div><div style="position:absolute;top:1679.41px;font-size:33.3px;line-height:33.3px;color:#000;white-space:nowrap;right:735.40px;transform:scaleX(0.809);transform-origin:100% 0">48,46</div><div style="position:absolute;top:1679.41px;font-size:33.3px;line-height:33.3px;color:#000;white-space:nowrap;right:456.90px;transform:scaleX(0.809);transform-origin:100% 0">2.368.351,88</div><div style="position:absolute;top:1679.41px;font-size:33.3px;line-height:33.3px;color:#000;white-space:nowrap;right:278.90px;transform:scaleX(0.809);transform-origin:100% 0">43,65</div><div style="position:absolute;top:1735.51px;font-size:33.3px;line-height:33.3px;color:#000;white-space:nowrap;left:237.20px;transform:scaleX(0.809);transform-origin:0 0">De 5.001 a 20.000 h</div><div style="position:absolute;top:1735.51px;font-size:33.3px;line-height:33.3px;color:#000;white-space:nowrap;right:1451.90px;transform:scaleX(0.809);transform-origin:100% 0">27</div><div style="position:absolute;top:1735.51px;font-size:33.3px;line-height:33.3px;color:#000;white-space:nowrap;right:1284.90px;transform:scaleX(0.809);transform-origin:100% 0">27</div><div style="position:absolute;top:1735.51px;font-size:33.3px;line-height:33.3px;color:#000;white-space:nowrap;right:1065.90px;transform:scaleX(0.809);transform-origin:100% 0">216.525</div><div style="position:absolute;top:1735.51px;font-size:33.3px;line-height:33.3px;color:#000;white-space:nowrap;right:907.40px;transform:scaleX(0.809);transform-origin:100% 0">172</div><div style="position:absolute;top:1735.51px;font-size:33.3px;line-height:33.3px;color:#000;white-space:nowrap;right:735.40px;transform:scaleX(0.809);transform-origin:100% 0">13,60</div><div style="position:absolute;top:1735.51px;font-size:33.3px;line-height:33.3px;color:#000;white-space:nowrap;right:456.90px;transform:scaleX(0.809);transform-origin:100% 0">1.119.436,40</div><div style="position:absolute;top:1735.51px;font-size:33.3px;line-height:33.3px;color:#000;white-space:nowrap;right:278.90px;transform:scaleX(0.809);transform-origin:100% 0">20,63</div><div style="position:absolute;top:1792.01px;font-size:33.3px;line-height:33.3px;color:#000;white-space:nowrap;left:237.20px;transform:scaleX(0.809);transform-origin:0 0">Más de 20.000 h</div><div style="position:absolute;top:1792.01px;font-size:33.3px;line-height:33.3px;color:#000;white-space:nowrap;right:1451.90px;transform:scaleX(0.809);transform-origin:100% 0">4</div><div style="position:absolute;top:1792.01px;font-size:33.3px;line-height:33.3px;color:#000;white-space:nowrap;right:1284.90px;transform:scaleX(0.809);transform-origin:100% 0">4</div><div style="position:absolute;top:1792.01px;font-size:33.3px;line-height:33.3px;color:#000;white-space:nowrap;right:1065.90px;transform:scaleX(0.809);transform-origin:100% 0">226.987</div><div style="position:absolute;top:1792.01px;font-size:33.3px;line-height:33.3px;color:#000;white-space:nowrap;right:907.40px;transform:scaleX(0.809);transform-origin:100% 0">11</div><div style="position:absolute;top:1792.01px;font-size:33.3px;line-height:33.3px;color:#000;white-space:nowrap;right:735.40px;transform:scaleX(0.809);transform-origin:100% 0">0,87</div><div style="position:absolute;top:1792.01px;font-size:33.3px;line-height:33.3px;color:#000;white-space:nowrap;right:456.90px;transform:scaleX(0.809);transform-origin:100% 0">567.325,34</div><div style="position:absolute;top:1792.01px;font-size:33.3px;line-height:33.3px;color:#000;white-space:nowrap;right:278.90px;transform:scaleX(0.809);transform-origin:100% 0">10,46</div><div style="position:absolute;left:224.50px;top:1836.10px;width:1677.50px;height:51.90px;background:#002e5d"></div><div style="position:absolute;left:737.90px;top:1836.10px;width:1.10px;height:51.90px;background:#163f6c"></div><div style="position:absolute;left:1459.90px;top:1836.10px;width:1.10px;height:51.90px;background:#163f6c"></div><div style="position:absolute;left:1701.90px;top:1836.10px;width:1.10px;height:51.90px;background:#163f6c"></div><div style="position:absolute;top:1845.61px;font-size:33.3px;line-height:33.3px;color:#ffffff;font-weight:bold;white-space:nowrap;left:237.20px;transform:scaleX(0.843372);transform-origin:0 0">TOTAL</div><div style="position:absolute;top:1845.61px;font-size:33.3px;line-height:33.3px;color:#ffffff;font-weight:bold;white-space:nowrap;right:1451.90px;transform:scaleX(0.822);transform-origin:100% 0">204</div><div style="position:absolute;top:1845.61px;font-size:33.3px;line-height:33.3px;color:#ffffff;font-weight:bold;white-space:nowrap;right:1284.90px;transform:scaleX(0.822);transform-origin:100% 0">202</div><div style="position:absolute;top:1845.61px;font-size:33.3px;line-height:33.3px;color:#ffffff;font-weight:bold;white-space:nowrap;right:1065.90px;transform:scaleX(0.822);transform-origin:100% 0">713.114</div><div style="position:absolute;top:1845.61px;font-size:33.3px;line-height:33.3px;color:#ffffff;font-weight:bold;white-space:nowrap;right:907.40px;transform:scaleX(0.822);transform-origin:100% 0">1.265</div><div style="position:absolute;top:1845.61px;font-size:33.3px;line-height:33.3px;color:#ffffff;font-weight:bold;white-space:nowrap;right:735.40px;transform:scaleX(0.822);transform-origin:100% 0">100,00</div><div style="position:absolute;top:1845.61px;font-size:33.3px;line-height:33.3px;color:#ffffff;font-weight:bold;white-space:nowrap;right:456.90px;transform:scaleX(0.822);transform-origin:100% 0">5.425.640,67</div><div style="position:absolute;top:1845.61px;font-size:33.3px;line-height:33.3px;color:#ffffff;font-weight:bold;white-space:nowrap;right:278.90px;transform:scaleX(0.822);transform-origin:100% 0">100,00</div><div style="position:absolute;top:1903.01px;font-size:32px;line-height:32px;color:#000;white-space:nowrap;left:237.20px;transform:scaleX(0.84);transform-origin:0 0">Fuente: Elaboración propia a partir de los datos facilitados por las DDPP y los publicados en la BDNS.</div>
<div style="position:absolute;left:186.2px;top:1984.04px;font-size:40px;line-height:40px;white-space:nowrap;word-spacing:0.229px;transform:scaleX(1.0000);transform-origin:0 0">La <b>DP de Albacete</b> tramitó en el ejercicio fiscalizado dieciséis convocatorias de subvenciones, con</div><div style="position:absolute;left:186.2px;top:2030.06px;font-size:40px;line-height:40px;white-space:nowrap;word-spacing:5.798px;transform:scaleX(1.0000);transform-origin:0 0">distintas finalidades, entre ellas, financiar la contratación de personal para escuelas de música,</div><div style="position:absolute;left:186.2px;top:2076.08px;font-size:40px;line-height:40px;white-space:nowrap;word-spacing:1.175px;transform:scaleX(1.0000);transform-origin:0 0">universidades populares, clubes de lecturas, escuelas infantiles, actividades deportivas o personal</div><div style="position:absolute;left:186.2px;top:2122.10px;font-size:40px;line-height:40px;white-space:nowrap;word-spacing:-0.200px;transform:scaleX(1.0000);transform-origin:0 0">para el refuerzo de la limpieza de colegios públicos, y, en menor medida, para financiar inversiones</div><div style="position:absolute;left:186.2px;top:2168.12px;font-size:40px;line-height:40px;white-space:nowrap;word-spacing:-0.109px;transform:scaleX(1.0000);transform-origin:0 0">y obras en infraestructuras. En catorce de esas convocatorias el procedimiento de concesión fue el</div><div style="position:absolute;left:186.2px;top:2214.14px;font-size:40px;line-height:40px;white-space:nowrap;word-spacing:2.596px;transform:scaleX(1.0000);transform-origin:0 0">de concurrencia competitiva y en las otras dos, el de concurrencia competitiva con reparto previo</div><div style="position:absolute;left:186.2px;top:2260.16px;font-size:40px;line-height:40px;white-space:nowrap;word-spacing:3.630px;transform:scaleX(1.0000);transform-origin:0 0">objetivo. En total, se otorgaron 754 subvenciones, por un importe de 2.916.883,81 euros, siendo</div><div style="position:absolute;left:186.2px;top:2306.18px;font-size:40px;line-height:40px;white-space:nowrap;word-spacing:0.000px;transform:scaleX(1.0000);transform-origin:0 0">beneficiarios 84 ayuntamientos de la provincia.</div>
</body></html>
